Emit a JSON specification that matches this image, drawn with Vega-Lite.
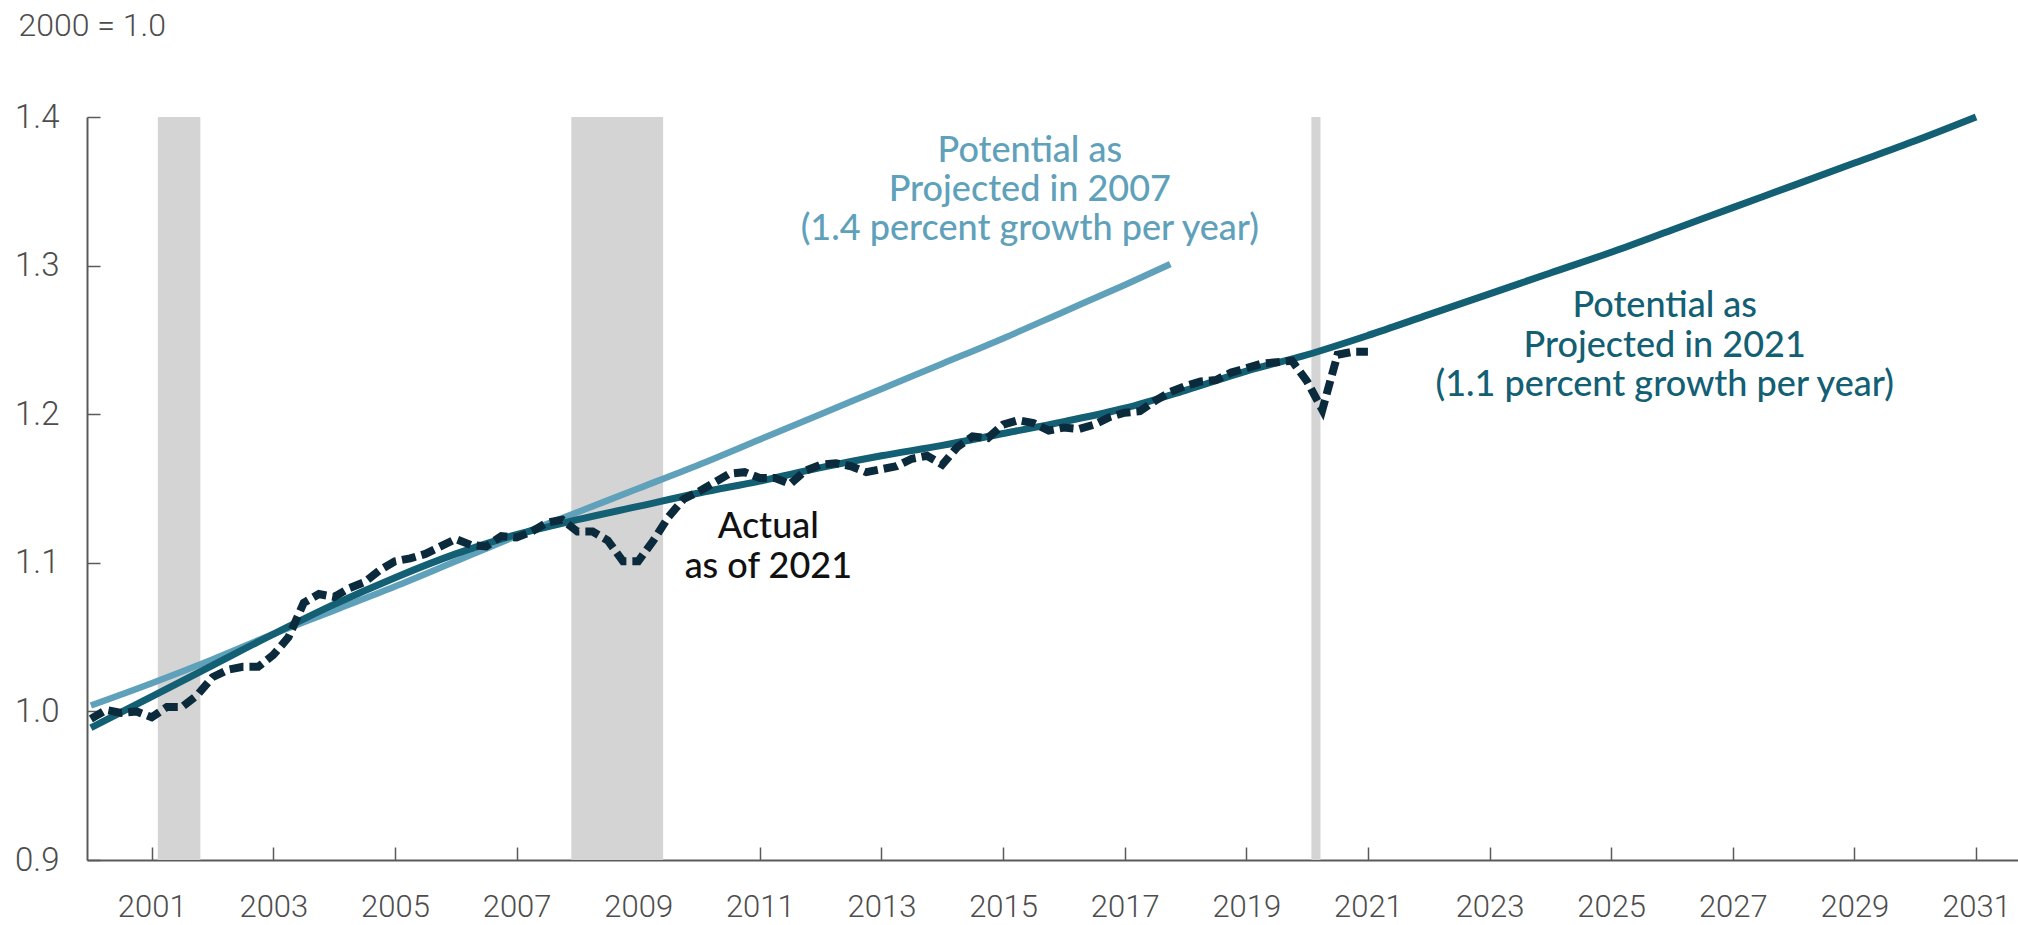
{
  "$schema": "https://vega.github.io/schema/vega-lite/v6.json",
  "width": 1931,
  "height": 743,
  "autosize": "none",
  "padding": {"left": 87, "top": 117, "right": 0, "bottom": 65},
  "background": "white",
  "config": {"view": {"stroke": null}},
  "datasets": {
    "recessions": [
      {"start": 2001.1, "end": 2001.8},
      {"start": 2007.9, "end": 2009.41},
      {"start": 2020.07, "end": 2020.22}
    ],
    "potential2007": [
      {"t": 2000, "v": 1.004}, {"t": 2001, "v": 1.019}, {"t": 2002, "v": 1.035}, {"t": 2003, "v": 1.052},
      {"t": 2004, "v": 1.068}, {"t": 2005, "v": 1.084}, {"t": 2006, "v": 1.101}, {"t": 2007, "v": 1.118},
      {"t": 2008, "v": 1.134}, {"t": 2009, "v": 1.150}, {"t": 2010, "v": 1.166}, {"t": 2011, "v": 1.183},
      {"t": 2012, "v": 1.200}, {"t": 2013, "v": 1.217}, {"t": 2014, "v": 1.234}, {"t": 2015, "v": 1.251},
      {"t": 2016, "v": 1.269}, {"t": 2017, "v": 1.287}, {"t": 2017.75, "v": 1.301}
    ],
    "potential2021": [
      {"t": 2000, "v": 0.989}, {"t": 2001, "v": 1.010}, {"t": 2002, "v": 1.031}, {"t": 2003, "v": 1.052},
      {"t": 2004, "v": 1.072}, {"t": 2005, "v": 1.090}, {"t": 2006, "v": 1.106}, {"t": 2007, "v": 1.119},
      {"t": 2008, "v": 1.129}, {"t": 2009, "v": 1.138}, {"t": 2010, "v": 1.147}, {"t": 2011, "v": 1.155},
      {"t": 2012, "v": 1.164}, {"t": 2013, "v": 1.172}, {"t": 2014, "v": 1.179}, {"t": 2015, "v": 1.187},
      {"t": 2016, "v": 1.195}, {"t": 2017, "v": 1.204}, {"t": 2018, "v": 1.216}, {"t": 2019, "v": 1.229},
      {"t": 2020, "v": 1.240}, {"t": 2021, "v": 1.253}, {"t": 2022, "v": 1.267}, {"t": 2023, "v": 1.281},
      {"t": 2024, "v": 1.295}, {"t": 2025, "v": 1.309}, {"t": 2026, "v": 1.324}, {"t": 2027, "v": 1.339},
      {"t": 2028, "v": 1.354}, {"t": 2029, "v": 1.369}, {"t": 2030, "v": 1.384}, {"t": 2031, "v": 1.400}
    ],
    "actual": [
      {"t": 2000.00, "v": 0.995}, {"t": 2000.25, "v": 1.001}, {"t": 2000.50, "v": 0.999}, {"t": 2000.75, "v": 1.000},
      {"t": 2001.00, "v": 0.996}, {"t": 2001.25, "v": 1.003}, {"t": 2001.50, "v": 1.003}, {"t": 2001.75, "v": 1.011},
      {"t": 2002.00, "v": 1.023}, {"t": 2002.25, "v": 1.028}, {"t": 2002.50, "v": 1.030}, {"t": 2002.75, "v": 1.030},
      {"t": 2003.00, "v": 1.038}, {"t": 2003.25, "v": 1.050}, {"t": 2003.50, "v": 1.073}, {"t": 2003.75, "v": 1.079},
      {"t": 2004.00, "v": 1.077}, {"t": 2004.25, "v": 1.083}, {"t": 2004.50, "v": 1.087}, {"t": 2004.75, "v": 1.095},
      {"t": 2005.00, "v": 1.101}, {"t": 2005.25, "v": 1.103}, {"t": 2005.50, "v": 1.106}, {"t": 2005.75, "v": 1.111},
      {"t": 2006.00, "v": 1.116}, {"t": 2006.25, "v": 1.112}, {"t": 2006.50, "v": 1.111}, {"t": 2006.75, "v": 1.118},
      {"t": 2007.00, "v": 1.117}, {"t": 2007.25, "v": 1.121}, {"t": 2007.50, "v": 1.127}, {"t": 2007.75, "v": 1.129},
      {"t": 2008.00, "v": 1.121}, {"t": 2008.25, "v": 1.121}, {"t": 2008.50, "v": 1.115}, {"t": 2008.75, "v": 1.101},
      {"t": 2009.00, "v": 1.101}, {"t": 2009.25, "v": 1.115}, {"t": 2009.50, "v": 1.131}, {"t": 2009.75, "v": 1.143},
      {"t": 2010.00, "v": 1.148}, {"t": 2010.25, "v": 1.154}, {"t": 2010.50, "v": 1.160}, {"t": 2010.75, "v": 1.161},
      {"t": 2011.00, "v": 1.157}, {"t": 2011.25, "v": 1.157}, {"t": 2011.50, "v": 1.153}, {"t": 2011.75, "v": 1.162},
      {"t": 2012.00, "v": 1.166}, {"t": 2012.25, "v": 1.167}, {"t": 2012.50, "v": 1.165}, {"t": 2012.75, "v": 1.161},
      {"t": 2013.00, "v": 1.163}, {"t": 2013.25, "v": 1.165}, {"t": 2013.50, "v": 1.170}, {"t": 2013.75, "v": 1.172},
      {"t": 2014.00, "v": 1.166}, {"t": 2014.25, "v": 1.178}, {"t": 2014.50, "v": 1.185}, {"t": 2014.75, "v": 1.184},
      {"t": 2015.00, "v": 1.193}, {"t": 2015.25, "v": 1.196}, {"t": 2015.50, "v": 1.194}, {"t": 2015.75, "v": 1.189},
      {"t": 2016.00, "v": 1.191}, {"t": 2016.25, "v": 1.190}, {"t": 2016.50, "v": 1.193}, {"t": 2016.75, "v": 1.198},
      {"t": 2017.00, "v": 1.201}, {"t": 2017.25, "v": 1.202}, {"t": 2017.50, "v": 1.209}, {"t": 2017.75, "v": 1.215},
      {"t": 2018.00, "v": 1.219}, {"t": 2018.25, "v": 1.222}, {"t": 2018.50, "v": 1.223}, {"t": 2018.75, "v": 1.228},
      {"t": 2019.00, "v": 1.231}, {"t": 2019.25, "v": 1.234}, {"t": 2019.50, "v": 1.235}, {"t": 2019.75, "v": 1.236},
      {"t": 2020.00, "v": 1.222}, {"t": 2020.25, "v": 1.203}, {"t": 2020.50, "v": 1.240}, {"t": 2020.75, "v": 1.242},
      {"t": 2021.00, "v": 1.242}
    ],
    "labels2007": [{"t": 2015.44, "v": 1.3698, "label": "Potential as\nProjected in 2007\n(1.4 percent growth per year)"}],
    "labels2021": [{"t": 2025.88, "v": 1.2654, "label": "Potential as\nProjected in 2021\n(1.1 percent growth per year)"}],
    "labelsActual": [{"t": 2011.14, "v": 1.1167, "label": "Actual\nas of 2021"}]
  },
  "layer": [
    {
      "data": {"name": "recessions"},
      "mark": {"type": "rect", "color": "#d4d4d4"},
      "encoding": {
        "x": {
          "field": "start", "type": "quantitative",
          "scale": {"domain": [1999.936, 2031.69], "nice": false, "zero": false},
          "axis": {
            "values": [2001, 2003, 2005, 2007, 2009, 2011, 2013, 2015, 2017, 2019, 2021, 2023, 2025, 2027, 2029, 2031],
            "format": "d",
            "title": null,
            "grid": false,
            "domainColor": "#5a5a5a",
            "domainWidth": 2,
            "tickColor": "#5a5a5a",
            "tickWidth": 1.5,
            "tickSize": -13,
            "labelPadding": 69,
            "labelBaseline": "alphabetic",
            "labelFont": "Roboto",
            "labelFontSize": 31,
            "labelFontWeight": 300,
            "labelColor": "#4d4d4d",
            "labelFlush": false,
            "labelOverlap": false
          }
        },
        "x2": {"field": "end"}
      }
    },
    {
      "data": {"name": "potential2007"},
      "mark": {"type": "line", "color": "#5fa1ba", "strokeWidth": 6.5, "interpolate": "monotone"},
      "encoding": {
        "x": {"field": "t", "type": "quantitative"},
        "y": {
          "field": "v", "type": "quantitative",
          "scale": {"domain": [0.9, 1.4], "nice": false, "zero": false},
          "axis": {
            "values": [0.9, 1.0, 1.1, 1.2, 1.3, 1.4],
            "format": ".1f",
            "title": "2000 = 1.0",
            "titleAngle": 0,
            "titleAlign": "left",
            "titleBaseline": "alphabetic",
            "titleX": -69,
            "titleY": -82,
            "titleFont": "Roboto",
            "titleFontSize": 32,
            "titleFontWeight": 300,
            "titleColor": "#4d4d4d",
            "grid": false,
            "domainColor": "#5a5a5a",
            "domainWidth": 2,
            "tickColor": "#5a5a5a",
            "tickWidth": 1.5,
            "tickSize": -13,
            "labelPadding": 41,
            "labelFont": "Roboto",
            "labelFontSize": 33,
            "labelFontWeight": 300,
            "labelColor": "#4d4d4d",
            "labelFlush": false,
            "labelOverlap": false
          }
        }
      }
    },
    {
      "data": {"name": "potential2021"},
      "mark": {"type": "line", "color": "#135f74", "strokeWidth": 7, "interpolate": "monotone"},
      "encoding": {
        "x": {"field": "t", "type": "quantitative"},
        "y": {"field": "v", "type": "quantitative"}
      }
    },
    {
      "data": {"name": "actual"},
      "mark": {"type": "line", "color": "#0b2a3c", "strokeWidth": 8, "strokeDash": [14, 6], "strokeCap": "butt"},
      "encoding": {
        "x": {"field": "t", "type": "quantitative"},
        "y": {"field": "v", "type": "quantitative"}
      }
    },
    {
      "data": {"name": "labels2007"},
      "mark": {"type": "text", "color": "#5fa1ba", "font": "Lato", "fontSize": 36, "fontWeight": 500, "align": "center", "baseline": "alphabetic", "lineBreak": "\n", "lineHeight": 39},
      "encoding": {
        "x": {"field": "t", "type": "quantitative"},
        "y": {"field": "v", "type": "quantitative"},
        "text": {"field": "label"}
      }
    },
    {
      "data": {"name": "labels2021"},
      "mark": {"type": "text", "color": "#135f74", "font": "Lato", "fontSize": 36, "fontWeight": 500, "align": "center", "baseline": "alphabetic", "lineBreak": "\n", "lineHeight": 39.5},
      "encoding": {
        "x": {"field": "t", "type": "quantitative"},
        "y": {"field": "v", "type": "quantitative"},
        "text": {"field": "label"}
      }
    },
    {
      "data": {"name": "labelsActual"},
      "mark": {"type": "text", "color": "#111111", "font": "Lato", "fontSize": 36, "fontWeight": 500, "align": "center", "baseline": "alphabetic", "lineBreak": "\n", "lineHeight": 40},
      "encoding": {
        "x": {"field": "t", "type": "quantitative"},
        "y": {"field": "v", "type": "quantitative"},
        "text": {"field": "label"}
      }
    }
  ]
}
